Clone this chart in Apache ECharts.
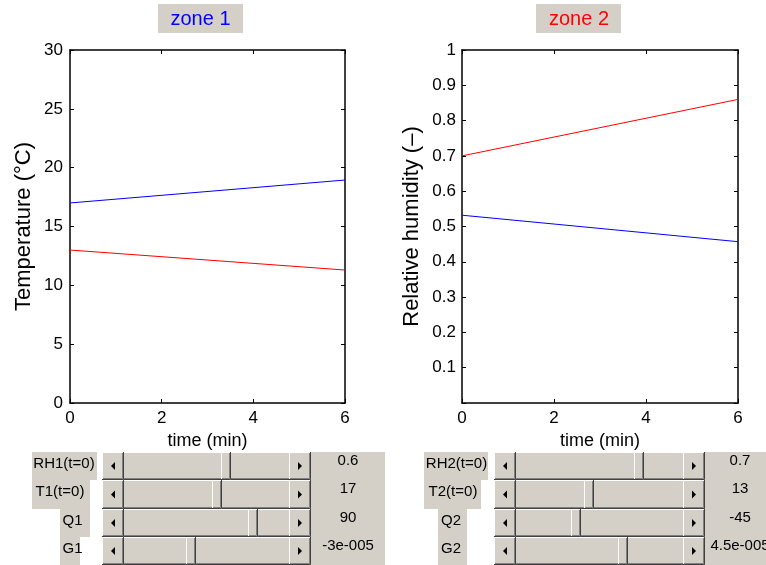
<!DOCTYPE html>
<html>
<head>
<meta charset="utf-8">
<script src="https://cdn.jsdelivr.net/npm/echarts@6/dist/echarts.min.js"></script>
<style>
html,body{margin:0;padding:0;background:#fff;}
#chart{width:766px;height:565px;}
</style>
</head>
<body>
<div id="chart"></div>
<script>
// ---- data ----
const time = [0, 6];
const zone1Temp = [17.0, 18.95];
const zone2Temp = [13.0, 11.3];
const zone1RH = [0.532, 0.457];
const zone2RH = [0.700, 0.860];

const titles = ['zone 1', 'zone 2'];
const sliderLabels1 = ['RH1(t=0)', 'T1(t=0)', 'Q1', 'G1'];
const sliderLabels2 = ['RH2(t=0)', 'T2(t=0)', 'Q2', 'G2'];
const sliderValues1 = [0.6, 17, 90, -3e-5];
const sliderValues2 = [0.7, 13, -45, 4.5e-5];
const sliderText1 = ['0.6', '17', '90', '-3e-005'];
const sliderText2 = ['0.7', '13', '-45', '4.5e-005'];
const sliderRanges = [[0.1, 0.9], [0, 30], [-150, 150], [-1.5e-4, 1.5e-4]];

// ---- chart ----
const F = '"Liberation Sans", Arial, sans-serif';
const chart = echarts.init(document.getElementById('chart'), null, {renderer: 'canvas'});

function pairs(xs, ys) { return xs.map((x, i) => [x, ys[i]]); }

const axisLineStyle = {show: true, onZero: false, lineStyle: {color: '#000', width: 1.5}};
const tickStyle = {show: true, inside: true, length: 4, lineStyle: {color: '#000', width: 1}};

function xAxes(g) {
  return [
    {gridIndex: g, type: 'value', min: 0, max: 6, interval: 2, position: 'bottom',
     axisLine: axisLineStyle, axisTick: tickStyle,
     axisLabel: {color: '#000', fontSize: 17, fontFamily: F, margin: 7},
     splitLine: {show: false},
     name: 'time (min)', nameLocation: 'middle', nameGap: 29,
     nameTextStyle: {fontSize: 18, color: '#000', fontFamily: F}},
    {gridIndex: g, type: 'value', min: 0, max: 6, interval: 2, position: 'top',
     axisLine: axisLineStyle, axisTick: tickStyle, axisLabel: {show: false}, splitLine: {show: false}}
  ];
}

const yLeft0 = {gridIndex: 0, type: 'value', min: 0, max: 30, interval: 5, position: 'left',
  axisLine: axisLineStyle, axisTick: tickStyle,
  axisLabel: {color: '#000', fontSize: 17, fontFamily: F, margin: 7},
  splitLine: {show: false},
  name: 'Temperature (\u00B0C)', nameLocation: 'middle', nameRotate: 90, nameGap: 35,
  nameTextStyle: {fontSize: 22, color: '#000', fontFamily: F}};
const yRight0 = {gridIndex: 0, type: 'value', min: 0, max: 30, interval: 5, position: 'right',
  axisLine: axisLineStyle, axisTick: tickStyle, axisLabel: {show: false}, splitLine: {show: false}};
const yLeft1 = {gridIndex: 1, type: 'value', min: 0, max: 1, interval: 0.1, position: 'left',
  axisLine: axisLineStyle, axisTick: tickStyle,
  axisLabel: {color: '#000', fontSize: 17, fontFamily: F, margin: 6,
    formatter: v => v < 0.05 ? '' : String(Math.round(v * 10) / 10)},
  splitLine: {show: false},
  name: 'Relative humidity (\u2013)', nameLocation: 'middle', nameRotate: 90, nameGap: 39,
  nameTextStyle: {fontSize: 22, color: '#000', fontFamily: F}};
const yRight1 = {gridIndex: 1, type: 'value', min: 0, max: 1, interval: 0.1, position: 'right',
  axisLine: axisLineStyle, axisTick: tickStyle, axisLabel: {show: false}, splitLine: {show: false}};

// ---- UI panel graphics ----
const GRAY = '#d4d0c8';
const els = [];

function bevel(x, y, w, h) {
  els.push({type: 'rect', shape: {x: x, y: y, width: w, height: h}, style: {fill: GRAY}, silent: true});
  els.push({type: 'polyline', shape: {points: [[x + 0.5, y + h - 1], [x + 0.5, y + 0.5], [x + w - 1, y + 0.5]]},
    style: {stroke: '#ffffff', lineWidth: 1, fill: null}, silent: true});
  els.push({type: 'polyline', shape: {points: [[x + 1, y + h - 1.5], [x + w - 1.5, y + h - 1.5], [x + w - 1.5, y + 1]]},
    style: {stroke: '#808080', lineWidth: 1, fill: null}, silent: true});
  els.push({type: 'polyline', shape: {points: [[x, y + h - 0.5], [x + w - 0.5, y + h - 0.5], [x + w - 0.5, y]]},
    style: {stroke: '#404040', lineWidth: 1, fill: null}, silent: true});
}

function txt(s, x, y, opts) {
  els.push(Object.assign({type: 'text', x: x, y: y, silent: true,
    style: Object.assign({text: s, fill: '#000', fontSize: 15, fontFamily: F, align: 'center', verticalAlign: 'middle'}, opts || {})}));
}

// titles
const titleBoxes = [[158, 243, 200.5, 'blue'], [536, 621, 579, 'red']];
titles.forEach((t, i) => {
  const b = titleBoxes[i];
  els.push({type: 'rect', shape: {x: b[0], y: 4, width: b[1] - b[0], height: 29}, style: {fill: GRAY}, silent: true});
  txt(t, b[2], 19.5, {fill: b[3], fontSize: 20});
});

const rowTop = 452, rowH = 28.3;

function panel(labels, values, texts, cfg) {
  for (let i = 0; i < 4; i++) {
    const top = Math.round(rowTop + rowH * i);
    const bot = Math.round(rowTop + rowH * (i + 1));
    const h = bot - top;
    // label box
    const lb = cfg.labelBoxes[i];
    els.push({type: 'rect', shape: {x: lb[0], y: top, width: lb[1] - lb[0], height: h}, style: {fill: GRAY}, silent: true});
    txt(labels[i], cfg.labelCenters[i], top + 12);
    // slider
    const x0 = cfg.sx0, x1 = cfg.sx1, bw = 22, tw = 10;
    bevel(x0, top, x1 - x0, h);
    els.push({type: 'rect', shape: {x: x0 + bw, y: top + 1, width: x1 - x0 - 2 * bw, height: h - 3}, style: {fill: GRAY}, silent: true});
    bevel(x0, top, bw, h);
    bevel(x1 - bw, top, bw, h);
    const cy = top + h / 2;
    const lc = x0 + bw / 2, rc = x1 - bw / 2;
    els.push({type: 'polygon', shape: {points: [[lc - 2, cy], [lc + 2, cy - 4], [lc + 2, cy + 4]]}, style: {fill: '#000'}, silent: true});
    els.push({type: 'polygon', shape: {points: [[rc + 2, cy], [rc - 2, cy - 4], [rc - 2, cy + 4]]}, style: {fill: '#000'}, silent: true});
    const r = sliderRanges[i];
    const frac = (values[i] - r[0]) / (r[1] - r[0]);
    const tx = x0 + bw + frac * (x1 - x0 - 2 * bw - tw);
    bevel(Math.round(tx), top, tw, h);
    // value box
    els.push({type: 'rect', shape: {x: x1, y: top, width: cfg.vx1 - x1, height: h}, style: {fill: GRAY}, silent: true});
    txt(texts[i], cfg.vc, top + 9);
  }
}

panel(sliderLabels1, sliderValues1, sliderText1, {
  labelBoxes: [[32, 97], [32, 90], [60, 90], [60, 80]],
  labelCenters: [64, 60, 72.5, 72.5],
  sx0: 102, sx1: 311, vx1: 385, vc: 348
});
panel(sliderLabels2, sliderValues2, sliderText2, {
  labelBoxes: [[424, 488], [424, 481], [438, 467], [438, 467]],
  labelCenters: [456.5, 453, 451, 451],
  sx0: 494, sx1: 705, vx1: 775, vc: 740
});

const option = {
  animation: false,
  backgroundColor: '#ffffff',
  grid: [
    {left: 70, top: 50, width: 275, height: 353},
    {left: 462, top: 50, width: 276, height: 353}
  ],
  xAxis: xAxes(0).concat(xAxes(1)),
  yAxis: [yLeft0, yRight0, yLeft1, yRight1],
  series: [
    {type: 'line', xAxisIndex: 0, yAxisIndex: 0, data: pairs(time, zone1Temp), showSymbol: false,
     lineStyle: {color: '#0000ff', width: 1}, itemStyle: {color: '#0000ff'}},
    {type: 'line', xAxisIndex: 0, yAxisIndex: 0, data: pairs(time, zone2Temp), showSymbol: false,
     lineStyle: {color: '#ff0000', width: 1}, itemStyle: {color: '#ff0000'}},
    {type: 'line', xAxisIndex: 2, yAxisIndex: 2, data: pairs(time, zone1RH), showSymbol: false,
     lineStyle: {color: '#0000ff', width: 1}, itemStyle: {color: '#0000ff'}},
    {type: 'line', xAxisIndex: 2, yAxisIndex: 2, data: pairs(time, zone2RH), showSymbol: false,
     lineStyle: {color: '#ff0000', width: 1}, itemStyle: {color: '#ff0000'}}
  ],
  graphic: {elements: els}
};
chart.setOption(option);
</script>
</body>
</html>
